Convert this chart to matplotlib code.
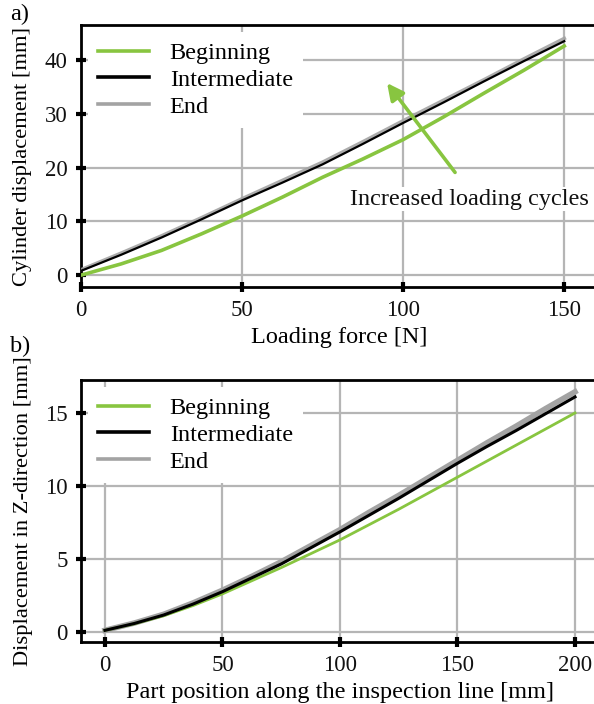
import matplotlib
matplotlib.use("Agg")
import matplotlib.pyplot as plt

# Panel a: cylinder displacement vs loading force
force_n = [0, 12.5, 25, 37.5, 50, 62.5, 75, 87.5, 100, 112.5, 125, 137.5, 150]
cyl_beginning = [0.0, 2.1, 4.6, 7.7, 11.0, 14.5, 18.2, 21.6, 25.2, 29.4, 33.8, 38.1, 42.6]
cyl_intermediate = [0.8, 3.8, 7.0, 10.4, 13.9, 17.2, 20.6, 24.4, 28.3, 32.1, 36.0, 39.8, 43.5]
cyl_end = [1.0, 4.1, 7.3, 10.7, 14.2, 17.6, 21.0, 24.8, 28.7, 32.5, 36.3, 40.2, 44.0]

# Panel b: Z displacement along the inspection line
position_mm = [0, 12.5, 25, 37.5, 50, 62.5, 75, 87.5, 100, 112.5, 125, 137.5,
               150, 162.5, 175, 187.5, 200]
z_beginning = [0.1, 0.55, 1.1, 1.8, 2.6, 3.5, 4.4, 5.35, 6.3, 7.35, 8.4, 9.5,
               10.6, 11.7, 12.8, 13.9, 15.0]
z_intermediate = [0.1, 0.57, 1.15, 1.9, 2.75, 3.7, 4.65, 5.75, 6.85, 8.0, 9.15, 10.35,
                  11.55, 12.7, 13.8, 14.95, 16.1]
z_end = [0.1, 0.6, 1.2, 1.98, 2.85, 3.8, 4.8, 5.9, 7.0, 8.2, 9.35, 10.55,
         11.75, 12.95, 14.1, 15.3, 16.45]

series_names = ["Beginning", "Intermediate", "End"]
a_xticks = [0, 50, 100, 150]
a_yticks = [0, 10, 20, 30, 40]
b_xticks = [0, 50, 100, 150, 200]
b_yticks = [0, 5, 10, 15]

GREEN = "#88c540"
BLACK = "#000000"
GREY = "#a3a3a3"
GRID = "#b5b5b5"

plt.rcParams["font.family"] = ["Liberation Serif", "DejaVu Serif"]

fig = plt.figure(figsize=(5.94, 7.04), dpi=100)
W, H = 594.0, 704.0


def axes_px(left, top, right, bottom):
    return fig.add_axes([left / W, 1 - bottom / H, (right - left) / W, (bottom - top) / H])


def style(ax, xticks, yticks):
    ax.set_xticks(xticks)
    ax.set_yticks(yticks)
    ax.grid(True, color=GRID, linewidth=1.6)
    ax.set_axisbelow(True)
    for side in ("left", "bottom", "top"):
        ax.spines[side].set_linewidth(2.0)
        ax.spines[side].set_color("black")
    ax.spines["right"].set_visible(False)
    ax.tick_params(direction="inout", length=7, width=3, labelsize=16.5, pad=6,
                   color="black", labelcolor="#111111")


def white_legend(ax, handles, labels):
    leg = ax.legend(handles, labels, loc="upper left", bbox_to_anchor=(0.0, 1.0),
                    fontsize=17.5, handlelength=2.1, handletextpad=0.85,
                    labelspacing=0.2, borderaxespad=0.3, frameon=True, fancybox=False)
    leg.get_frame().set_edgecolor("none")
    leg.get_frame().set_facecolor("white")
    leg.get_frame().set_alpha(1.0)
    for line in leg.get_lines():
        line.set_linewidth(2.6)
        line.set_alpha(1.0)
    return leg


# ---- panel a ----
ax1 = axes_px(81, 25, 596.5, 287)
l_b = ax1.plot(force_n, cyl_beginning, color=GREEN, lw=2.6, zorder=3)[0]
l_i = ax1.plot(force_n, cyl_intermediate, color=BLACK, lw=1.6, zorder=4)[0]
l_e = ax1.plot(force_n, cyl_end, color=GREY, lw=2.6, zorder=3.5, alpha=0.9)[0]
ax1.set_xlim(0, 160)
ax1.set_ylim(-2.2, 46.5)
style(ax1, a_xticks, a_yticks)
ax1.set_xlabel("Loading force [N]", fontsize=17.5, labelpad=4)
ax1.set_ylabel("Cylinder displacement [mm]", fontsize=16.2, labelpad=9)
white_legend(ax1, [l_b, l_i, l_e], series_names)

ax1.annotate("", xy=(95.0, 35.7), xytext=(116.1, 19.1),
             arrowprops=dict(arrowstyle="-|>,head_length=1.0,head_width=0.5",
                             color=GREEN, lw=2.6, shrinkA=0, shrinkB=0), zorder=6)
ax1.text(120.5, 14.1, "Increased loading cycles", fontsize=17.5, ha="center", va="center",
         color="#111111", zorder=7,
         bbox=dict(facecolor="white", edgecolor="none", pad=1.0))

# ---- panel b ----
ax2 = axes_px(81, 380, 598.5, 642)
m_e = ax2.plot(position_mm, z_end, color=GREY, lw=4.0, zorder=3)[0]
m_b = ax2.plot(position_mm, z_beginning, color=GREEN, lw=2.0, zorder=3.5)[0]
m_i = ax2.plot(position_mm, z_intermediate, color=BLACK, lw=2.2, zorder=4)[0]
ax2.set_xlim(-10.2, 210)
ax2.set_ylim(-0.7, 17.26)
style(ax2, b_xticks, b_yticks)
ax2.set_xlabel("Part position along the inspection line [mm]", fontsize=17.5, labelpad=4)
ax2.set_ylabel("Displacement in Z-direction [mm]", fontsize=16.2, labelpad=9)
white_legend(ax2, [m_b, m_i, m_e], series_names)

fig.text(10 / W, 1 - 14 / H, "a)", fontsize=17.5, ha="left", va="center")
fig.text(10 / W, 1 - 346 / H, "b)", fontsize=17.5, ha="left", va="center")

fig.savefig("out.png", dpi=100)
